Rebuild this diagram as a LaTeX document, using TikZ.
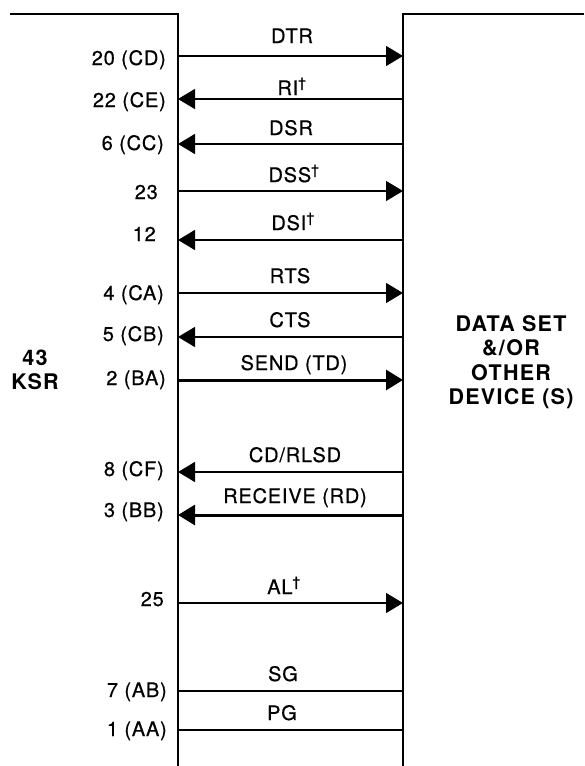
\documentclass[tikz,border=0pt]{standalone}
\usepackage{fontspec}
\setmainfont{TeX Gyre Heros}[LetterSpace=4,FakeBold=0.6]
\newfontfamily\sidefont{TeX Gyre Heros Bold}[LetterSpace=6]
\usetikzlibrary{arrows.meta}
\tikzset{
  boxline/.style={line width=1.8pt},
  sig/.style={line width=1.5pt},
  sigthick/.style={line width=3pt},
  tip/.style={-{Triangle[length=17pt,width=20pt]}},
  siglabel/.style={font=\fontsize{20}{24}\selectfont, inner sep=0pt, anchor=base},
  pinlabel/.style={font=\fontsize{20}{24}\selectfont, inner sep=0pt, anchor=base east},
  side/.style={font=\sidefont\fontsize{21.5}{24.5}\selectfont, inner sep=0pt, align=center}
}
\newcommand{\dagmark}{\textsuperscript{\dag}}
\begin{document}
\begin{tikzpicture}[x=1pt,y=-1pt]
\useasboundingbox (0,0) rectangle (584,766);
% boxes
\coordinate (ltopl) at (10,14);
\coordinate (ltop) at (178,14);
\coordinate (lbot) at (178,766);
\coordinate (rtopr) at (584,14);
\coordinate (rtop) at (403,14);
\coordinate (rbot) at (403,766);
\draw[boxline] (ltopl) -- (ltop) -- (lbot);
\draw[boxline] (rtopr) -- (rtop) -- (rbot);
% signal end points
\foreach \n/\y in {1/56,2/99,3/144,4/191,5/240,6/293,7/337,8/380,9/472,10/515,11/603,12/691,13/730}{
  \coordinate (l\n) at (178,\y);
  \coordinate (r\n) at (403,\y);
}
% connectors
\draw[sig,tip] (l1) -- (r1);
\draw[sig,tip] (r2) -- (l2);
\draw[sig,tip] (r3) -- (l3);
\draw[sig,tip] (l4) -- (r4);
\draw[sig,tip] (r5) -- (l5);
\draw[sig,tip] (l6) -- (r6);
\draw[sig,tip] (r7) -- (l7);
\draw[sigthick,tip] (l8) -- (r8);
\draw[sig,tip] (r9) -- (l9);
\draw[sigthick,tip] (r10) -- (l10);
\draw[sig,tip] (l11) -- (r11);
\draw[sig] (l12) -- (r12);
\draw[sig] (l13) -- (r13);
% signal labels
\node[siglabel] (t1) at (292,43) {DTR};
\node[siglabel] (t2) at (292,95) {RI\dagmark};
\node[siglabel] (t3) at (291,135) {DSR};
\node[siglabel] (t4) at (294,182) {DSS\dagmark};
\node[siglabel] (t5) at (293,230) {DSI\dagmark};
\node[siglabel] (t6) at (290,283) {RTS};
\node[siglabel] (t7) at (290,327) {CTS};
\node[siglabel] (t8) at (294,370) {SEND (TD)};
\node[siglabel] (t9) at (295,462) {CD/RLSD};
\node[siglabel] (t10) at (295,503) {RECEIVE (RD)};
\node[siglabel] (t11) at (284,594) {AL\dagmark};
\node[siglabel] (t12) at (283,681) {SG};
\node[siglabel] (t13) at (282,720) {PG};
% pin labels
\node[pinlabel] (p1) at (166,65) {20 (CD)};
\node[pinlabel] (p2) at (166,107) {22 (CE)};
\node[pinlabel] (p3) at (164,150) {6 (CC)};
\node[pinlabel] (p4) at (158,199) {23};
\node[pinlabel] (p5) at (156,241) {12};
\node[pinlabel] (p6) at (164,300) {4 (CA)};
\node[pinlabel] (p7) at (164,341) {5 (CB)};
\node[pinlabel] (p8) at (166,385) {2 (BA)};
\node[pinlabel] (p9) at (164,476) {8 (CF)};
\node[pinlabel] (p10) at (164,517) {3 (BB)};
\node[pinlabel] (p11) at (164,606) {25};
\node[pinlabel] (p12) at (167,697) {7 (AB)};
\node[pinlabel] (p13) at (167,736) {1 (AA)};
% side labels
\node[side] (ksr) at (35,370) {43\\KSR};
\node[side] (dev) at (511,362) {DATA SET\\\&/OR\\OTHER\\DEVICE (S)};
\end{tikzpicture}
\end{document}
